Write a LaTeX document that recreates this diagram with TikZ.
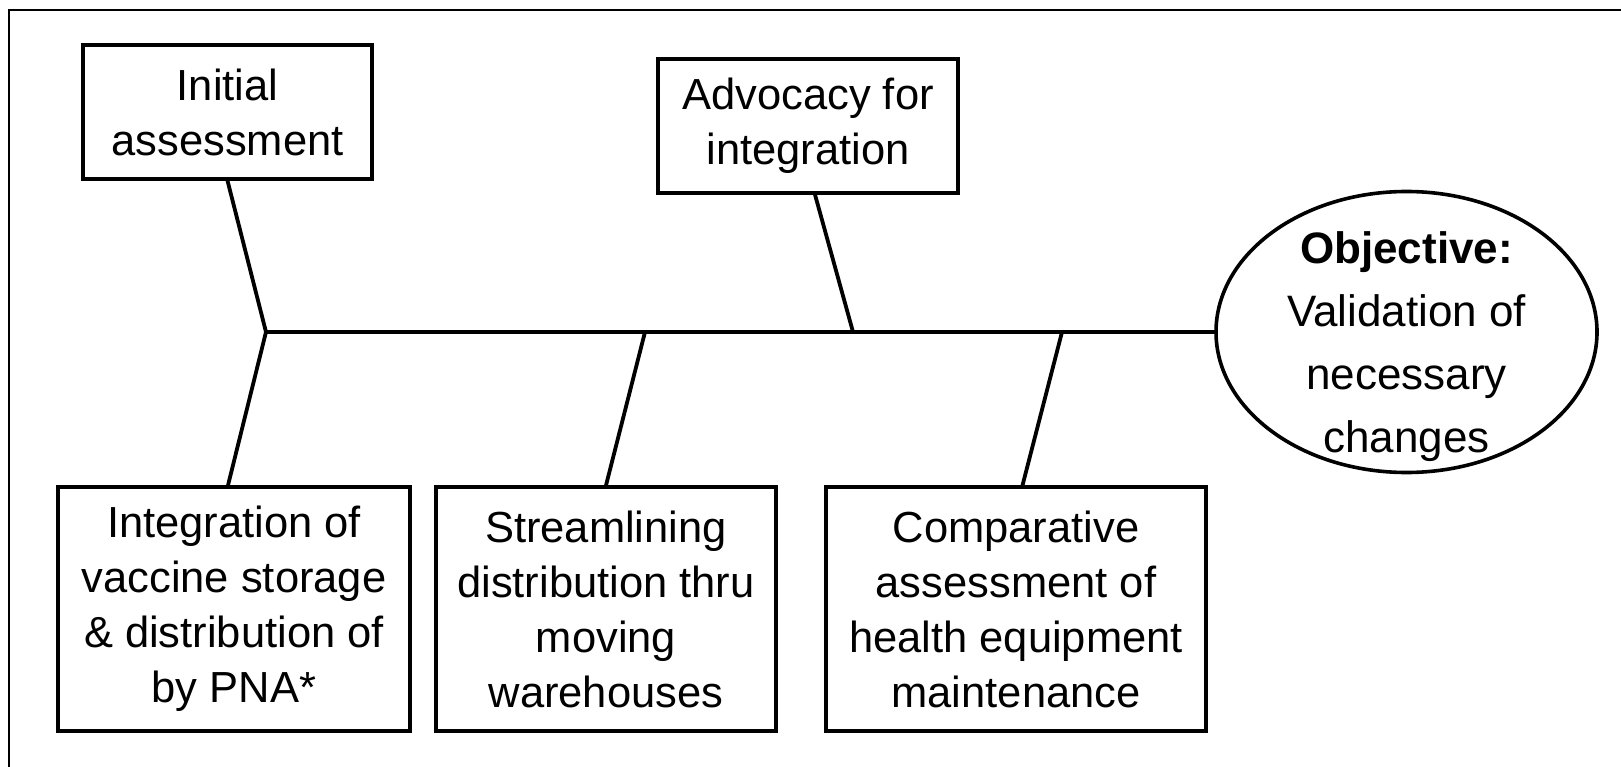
\documentclass[tikz,border=0pt]{standalone}
\usepackage{fontspec}
\setmainfont{Liberation Sans}
\usetikzlibrary{shapes.geometric}

\tikzset{
  cause/.style={draw, line width=3.3pt, align=center, inner sep=0pt,
    font=\fontsize{43.5}{55}\selectfont},
  goal/.style={draw, ellipse, line width=3.6pt, inner sep=0pt,
    minimum width=381pt, minimum height=281pt},
  bone/.style={line width=3.8pt},
  outerline/.style={line width=2.2pt}
}

\begin{document}
\begin{tikzpicture}[x=1pt,y=-1pt]
    \useasboundingbox (0,0) rectangle (1621,767);

    % Outer frame (top and left only)
    \coordinate (FL) at (9,767);
    \coordinate (FC) at (9,10);
    \coordinate (FR) at (1621,10);
    \draw[outerline] (FL) -- (FC) -- (FR);

    % Causes above the spine
    \node (init) [cause, minimum width=289pt, minimum height=134pt] at (227.5,112) {Initial\\assessment};
    \node (advo) [cause, minimum width=300pt, minimum height=134pt] at (808,126) {Advocacy for\\integration};

    % Causes below the spine
    \node (integ) [cause, minimum width=352pt, minimum height=244pt] at (234,609) {Integration of\\vaccine storage\\\& distribution of\\by PNA*};
    \node (stream) [cause, minimum width=340pt, minimum height=244pt] at (606,609) {Streamlining\\distribution thru\\moving\\warehouses};
    \node (compar) [cause, minimum width=380pt, minimum height=244pt] at (1016,609) {Comparative\\assessment of\\health equipment\\maintenance};

    % Objective at the head
    \node (obj) [goal] at (1406.5,332) {};
    \node (objtext) [align=center, font=\fontsize{44}{63}\selectfont] at (1406.5,347)
        {\textbf{Objective:}\\Validation of\\necessary\\changes};

    % Junctions on the spine
    \coordinate (J1) at (266,332);
    \coordinate (J2) at (645,332);
    \coordinate (J3) at (853,332);
    \coordinate (J4) at (1062,332);

    % Spine
    \draw[bone] (J1) -- (J1 -| obj.west);

    % Bones
    \draw[bone] (init.south) -- (J1);
    \draw[bone] (J1) -- ([xshift=-6pt]integ.north);
    \draw[bone] (J2) -- (stream.north);
    \draw[bone] ([xshift=7pt]advo.south) -- (J3);
    \draw[bone] (J4) -- ([xshift=6.5pt]compar.north);
\end{tikzpicture}
\end{document}
